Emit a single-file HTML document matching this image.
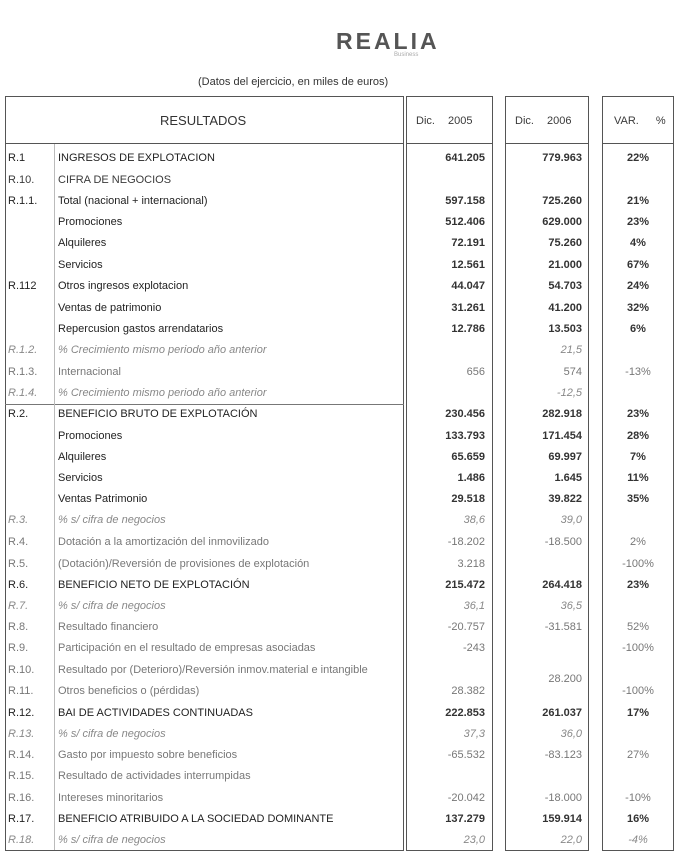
<!DOCTYPE html>
<html><head><meta charset="utf-8"><style>
body{margin:0;background:#fff;width:678px;height:860px;position:relative;overflow:hidden;font-family:"Liberation Sans",sans-serif;color:#3a3a3a}
.box{position:absolute;border:1.5px solid #555;box-sizing:border-box}
.r{position:absolute;left:0;width:678px;height:16px;font-size:11px;line-height:16px}
.r span{position:absolute;white-space:nowrap}
.c{left:8px}.l{left:58px}
.a{right:193px;text-align:right}
.b{right:96px;text-align:right}
.v{left:602px;width:72px;text-align:center}
.bd{font-weight:bold;color:#333}
.bd .c,.bd .l{font-weight:normal;color:#222}
.it{font-style:italic;color:#888}
.lt{color:#777}
</style></head><body>
<div style="position:absolute;left:336px;top:28px;font-size:23px;font-weight:bold;color:#555;letter-spacing:3px">REALIA</div>
<div style="position:absolute;left:394px;top:52px;font-size:6px;color:#aaa">Business</div>
<div style="position:absolute;left:198px;top:76px;font-size:11px;color:#333">(Datos del ejercicio, en miles de euros)</div>

<div class="box" style="left:5px;top:96px;width:399px;height:755px"></div>
<div style="position:absolute;left:5px;top:143px;width:399px;border-top:1.5px solid #555"></div>
<div style="position:absolute;left:5px;top:404px;width:399px;border-top:1px solid #777"></div>
<div style="position:absolute;left:54px;top:144px;height:706px;border-left:1px solid #bbb"></div>
<div class="box" style="left:406px;top:96px;width:87px;height:755px"></div>
<div style="position:absolute;left:406px;top:143px;width:87px;border-top:1.5px solid #555"></div>
<div class="box" style="left:505px;top:96px;width:84px;height:755px"></div>
<div style="position:absolute;left:505px;top:143px;width:84px;border-top:1.5px solid #555"></div>
<div class="box" style="left:602px;top:96px;width:72px;height:755px"></div>
<div style="position:absolute;left:602px;top:143px;width:72px;border-top:1.5px solid #555"></div>

<div style="position:absolute;left:160px;top:113px;font-size:13px;color:#333">RESULTADOS</div>
<div style="position:absolute;left:416px;top:115px;font-size:11px;word-spacing:10px">Dic. 2005</div>
<div style="position:absolute;left:515px;top:115px;font-size:11px;word-spacing:10px">Dic. 2006</div>
<div style="position:absolute;left:614px;top:115px;font-size:11px;word-spacing:14px">VAR. %</div>

<div class="r bd" style="top:150px"><span class="c">R.1</span><span class="l">INGRESOS DE EXPLOTACION</span><span class="a">641.205</span><span class="b">779.963</span><span class="v">22%</span></div>
<div class="r" style="top:172px"><span class="c">R.10.</span><span class="l">CIFRA DE NEGOCIOS</span></div>
<div class="r bd" style="top:193px"><span class="c">R.1.1.</span><span class="l">Total (nacional + internacional)</span><span class="a">597.158</span><span class="b">725.260</span><span class="v">21%</span></div>
<div class="r bd" style="top:214px"><span class="l">Promociones</span><span class="a">512.406</span><span class="b">629.000</span><span class="v">23%</span></div>
<div class="r bd" style="top:235px"><span class="l">Alquileres</span><span class="a">72.191</span><span class="b">75.260</span><span class="v">4%</span></div>
<div class="r bd" style="top:257px"><span class="l">Servicios</span><span class="a">12.561</span><span class="b">21.000</span><span class="v">67%</span></div>
<div class="r bd" style="top:278px"><span class="c">R.112</span><span class="l">Otros ingresos explotacion</span><span class="a">44.047</span><span class="b">54.703</span><span class="v">24%</span></div>
<div class="r bd" style="top:300px"><span class="l">Ventas de patrimonio</span><span class="a">31.261</span><span class="b">41.200</span><span class="v">32%</span></div>
<div class="r bd" style="top:321px"><span class="l">Repercusion gastos arrendatarios</span><span class="a">12.786</span><span class="b">13.503</span><span class="v">6%</span></div>
<div class="r it" style="top:342px"><span class="c">R.1.2.</span><span class="l">% Crecimiento mismo periodo año anterior</span><span class="b">21,5</span></div>
<div class="r lt" style="top:364px"><span class="c">R.1.3.</span><span class="l">Internacional</span><span class="a">656</span><span class="b">574</span><span class="v">-13%</span></div>
<div class="r it" style="top:385px"><span class="c">R.1.4.</span><span class="l">% Crecimiento mismo periodo año anterior</span><span class="b">-12,5</span></div>
<div class="r bd" style="top:406px"><span class="c">R.2.</span><span class="l">BENEFICIO BRUTO DE EXPLOTACIÓN</span><span class="a">230.456</span><span class="b">282.918</span><span class="v">23%</span></div>
<div class="r bd" style="top:428px"><span class="l">Promociones</span><span class="a">133.793</span><span class="b">171.454</span><span class="v">28%</span></div>
<div class="r bd" style="top:449px"><span class="l">Alquileres</span><span class="a">65.659</span><span class="b">69.997</span><span class="v">7%</span></div>
<div class="r bd" style="top:470px"><span class="l">Servicios</span><span class="a">1.486</span><span class="b">1.645</span><span class="v">11%</span></div>
<div class="r bd" style="top:491px"><span class="l">Ventas Patrimonio</span><span class="a">29.518</span><span class="b">39.822</span><span class="v">35%</span></div>
<div class="r it" style="top:512px"><span class="c">R.3.</span><span class="l">% s/ cifra de negocios</span><span class="a">38,6</span><span class="b">39,0</span></div>
<div class="r lt" style="top:534px"><span class="c">R.4.</span><span class="l">Dotación a la amortización del inmovilizado</span><span class="a">-18.202</span><span class="b">-18.500</span><span class="v">2%</span></div>
<div class="r lt" style="top:556px"><span class="c">R.5.</span><span class="l">(Dotación)/Reversión de provisiones de explotación</span><span class="a">3.218</span><span class="v">-100%</span></div>
<div class="r bd" style="top:577px"><span class="c">R.6.</span><span class="l">BENEFICIO NETO DE EXPLOTACIÓN</span><span class="a">215.472</span><span class="b">264.418</span><span class="v">23%</span></div>
<div class="r it" style="top:598px"><span class="c">R.7.</span><span class="l">% s/ cifra de negocios</span><span class="a">36,1</span><span class="b">36,5</span></div>
<div class="r lt" style="top:619px"><span class="c">R.8.</span><span class="l">Resultado financiero</span><span class="a">-20.757</span><span class="b">-31.581</span><span class="v">52%</span></div>
<div class="r lt" style="top:640px"><span class="c">R.9.</span><span class="l">Participación en el resultado de empresas asociadas</span><span class="a">-243</span><span class="v">-100%</span></div>
<div class="r lt" style="top:662px"><span class="c">R.10.</span><span class="l">Resultado por (Deterioro)/Reversión inmov.material e intangible</span><span class="b" style="top:9px">28.200</span></div>
<div class="r lt" style="top:683px"><span class="c">R.11.</span><span class="l">Otros beneficios o (pérdidas)</span><span class="a">28.382</span><span class="v">-100%</span></div>
<div class="r bd" style="top:705px"><span class="c">R.12.</span><span class="l">BAI DE ACTIVIDADES CONTINUADAS</span><span class="a">222.853</span><span class="b">261.037</span><span class="v">17%</span></div>
<div class="r it" style="top:726px"><span class="c">R.13.</span><span class="l">% s/ cifra de negocios</span><span class="a">37,3</span><span class="b">36,0</span></div>
<div class="r lt" style="top:747px"><span class="c">R.14.</span><span class="l">Gasto por impuesto sobre beneficios</span><span class="a">-65.532</span><span class="b">-83.123</span><span class="v">27%</span></div>
<div class="r lt" style="top:768px"><span class="c">R.15.</span><span class="l">Resultado de actividades interrumpidas</span></div>
<div class="r lt" style="top:790px"><span class="c">R.16.</span><span class="l">Intereses minoritarios</span><span class="a">-20.042</span><span class="b">-18.000</span><span class="v">-10%</span></div>
<div class="r bd" style="top:811px"><span class="c">R.17.</span><span class="l">BENEFICIO ATRIBUIDO A LA SOCIEDAD DOMINANTE</span><span class="a">137.279</span><span class="b">159.914</span><span class="v">16%</span></div>
<div class="r it" style="top:832px"><span class="c">R.18.</span><span class="l">% s/ cifra de negocios</span><span class="a">23,0</span><span class="b">22,0</span><span class="v">-4%</span></div>
</body></html>
